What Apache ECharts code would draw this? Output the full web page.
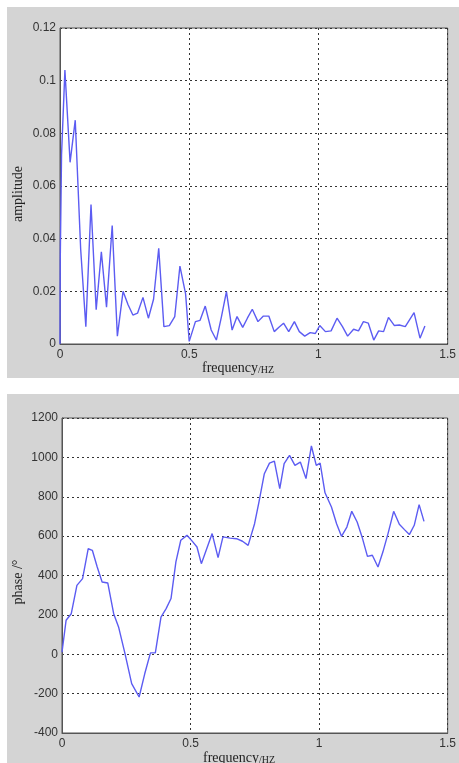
<!DOCTYPE html>
<html>
<head>
<meta charset="utf-8">
<script src="https://cdn.jsdelivr.net/npm/echarts@6/dist/echarts.min.js"></script>
<style>
html,body{margin:0;padding:0;background:#fff;width:459px;height:763px;overflow:hidden;}
.panel{position:absolute;background:#d4d4d4;}
#chart{position:absolute;left:0;top:0;width:459px;height:763px;}
</style>
</head>
<body>
<div class="panel" style="left:7px;top:7px;width:452px;height:371px;"></div>
<div class="panel" style="left:7px;top:394px;width:452px;height:369px;"></div>
<div id="chart"></div>
<script>
// Amplitude spectrum (frequency in Hz, amplitude)
var ampFreq = [0, 0.001, 0.006, 0.019, 0.039, 0.059, 0.080, 0.100, 0.120, 0.140, 0.160, 0.180, 0.202, 0.222, 0.244, 0.263, 0.282, 0.300, 0.321, 0.342, 0.362, 0.382, 0.402, 0.423, 0.444, 0.464, 0.486, 0.500, 0.524, 0.542, 0.562, 0.585, 0.605, 0.625, 0.644, 0.666, 0.685, 0.707, 0.725, 0.744, 0.766, 0.787, 0.808, 0.829, 0.846, 0.865, 0.885, 0.907, 0.926, 0.947, 0.968, 0.988, 1.005, 1.027, 1.049, 1.072, 1.093, 1.113, 1.136, 1.155, 1.174, 1.193, 1.214, 1.233, 1.252, 1.271, 1.294, 1.313, 1.336, 1.353, 1.370, 1.393, 1.412];
var ampValues = [0.000, 0.032, 0.072, 0.104, 0.069, 0.085, 0.036, 0.0066, 0.053, 0.013, 0.035, 0.014, 0.045, 0.003, 0.020, 0.015, 0.011, 0.0117, 0.0177, 0.0098, 0.017, 0.0363, 0.0066, 0.007, 0.0104, 0.0296, 0.019, 0.001, 0.0085, 0.009, 0.0144, 0.0053, 0.0015, 0.0105, 0.0199, 0.0053, 0.0104, 0.0063, 0.0098, 0.0132, 0.0085, 0.0106, 0.0106, 0.0047, 0.0063, 0.0079, 0.0047, 0.0085, 0.0047, 0.003, 0.0043, 0.004, 0.007, 0.0047, 0.005, 0.0098, 0.0066, 0.003, 0.0056, 0.005, 0.0085, 0.0079, 0.0015, 0.005, 0.0047, 0.0101, 0.007, 0.0072, 0.0066, 0.0093, 0.0119, 0.0022, 0.0068];

// Phase spectrum (frequency in Hz, phase in degrees)
var phaseFreq = [0, 0.016, 0.036, 0.058, 0.080, 0.102, 0.118, 0.137, 0.156, 0.178, 0.201, 0.220, 0.245, 0.271, 0.300, 0.322, 0.344, 0.363, 0.385, 0.405, 0.424, 0.443, 0.462, 0.486, 0.508, 0.525, 0.542, 0.584, 0.607, 0.626, 0.654, 0.679, 0.702, 0.724, 0.749, 0.766, 0.787, 0.807, 0.826, 0.847, 0.864, 0.885, 0.906, 0.927, 0.949, 0.970, 0.989, 1.004, 1.023, 1.048, 1.068, 1.087, 1.108, 1.127, 1.148, 1.167, 1.188, 1.207, 1.229, 1.248, 1.268, 1.290, 1.312, 1.332, 1.351, 1.370, 1.389, 1.408];
var phaseValues = [10, 173, 206, 350, 384, 536, 528, 443, 367, 362, 206, 139, 3, -149, -217, -98, 7, 7, 189, 232, 283, 469, 579, 604, 572, 545, 460, 613, 491, 596, 590, 587, 574, 553, 663, 773, 917, 971, 981, 841, 968, 1010, 959, 976, 892, 1058, 959, 971, 820, 748, 663, 599, 646, 726, 672, 596, 497, 503, 443, 519, 613, 726, 660, 633, 608, 655, 760, 675];

// Tick settings
var xTicks = {min: 0, max: 1.5, interval: 0.5};
var ampTicks = {min: 0, max: 0.12, interval: 0.02};
var phaseTicks = {min: -400, max: 1200, interval: 200};

function pairs(xs, ys) {
  var out = [];
  for (var i = 0; i < xs.length; i++) out.push([xs[i], ys[i]]);
  return out;
}
function plainNum(v) {
  return String(Math.round(v * 1e6) / 1e6);
}

var chart = echarts.init(document.getElementById('chart'), null, {renderer: 'canvas'});

var gridLine = {show: true, lineStyle: {color: '#333', type: [2, 3], width: 1}};
var labelStyle = {color: '#333', fontFamily: 'Liberation Sans, Arial, sans-serif', fontSize: 12, formatter: plainNum};

function xAxisDef(gi) {
  return {
    type: 'value', gridIndex: gi, min: xTicks.min, max: xTicks.max, interval: xTicks.interval,
    axisLine: {show: true, onZero: false, lineStyle: {color: '#555', width: 1}},
    axisTick: {show: false},
    axisLabel: Object.assign({margin: 5}, labelStyle),
    splitLine: gridLine
  };
}
function yAxisDef(gi, t) {
  return {
    type: 'value', gridIndex: gi, min: t.min, max: t.max, interval: t.interval,
    axisLine: {show: true, onZero: false, lineStyle: {color: '#555', width: 1}},
    axisTick: {show: false},
    axisLabel: Object.assign({margin: 4}, labelStyle),
    splitLine: gridLine
  };
}

var serif = 'Liberation Serif, Times New Roman, serif';

chart.setOption({
  animation: false,
  backgroundColor: 'transparent',
  grid: [
    {left: 60, top: 28, width: 393, height: 316, show: true, backgroundColor: '#fff', borderColor: '#555', borderWidth: 1},
    {left: 62, top: 418, width: 391, height: 315, show: true, backgroundColor: '#fff', borderColor: '#555', borderWidth: 1}
  ],
  xAxis: [xAxisDef(0), xAxisDef(1)],
  yAxis: [yAxisDef(0, ampTicks), yAxisDef(1, phaseTicks)],
  series: [
    {type: 'line', xAxisIndex: 0, yAxisIndex: 0, data: pairs(ampFreq, ampValues), showSymbol: false, symbol: 'none',
     lineStyle: {color: '#5c5cf2', width: 1.4}},
    {type: 'line', xAxisIndex: 1, yAxisIndex: 1, data: pairs(phaseFreq, phaseValues), showSymbol: false, symbol: 'none',
     lineStyle: {color: '#5c5cf2', width: 1.4}}
  ],
  graphic: [
    {type: 'text', x: 202, y: 368, style: {text: 'frequency', font: '14px ' + serif, fill: '#222', textAlign: 'left', textVerticalAlign: 'middle'}},
    {type: 'text', x: 258, y: 370, style: {text: '/HZ', font: '10px ' + serif, fill: '#222', textAlign: 'left', textVerticalAlign: 'middle'}},
    {type: 'text', x: 203, y: 758, style: {text: 'frequency', font: '14px ' + serif, fill: '#222', textAlign: 'left', textVerticalAlign: 'middle'}},
    {type: 'text', x: 259, y: 760, style: {text: '/HZ', font: '10px ' + serif, fill: '#222', textAlign: 'left', textVerticalAlign: 'middle'}},
    {type: 'text', x: 18, y: 194, rotation: Math.PI / 2, style: {text: 'amplitude', font: '14px ' + serif, fill: '#222', textAlign: 'center', textVerticalAlign: 'middle'}},
    {type: 'text', x: 18, y: 582, rotation: Math.PI / 2, style: {text: 'phase /°', font: '14px ' + serif, fill: '#222', textAlign: 'center', textVerticalAlign: 'middle'}}
  ]
});
</script>
</body>
</html>
